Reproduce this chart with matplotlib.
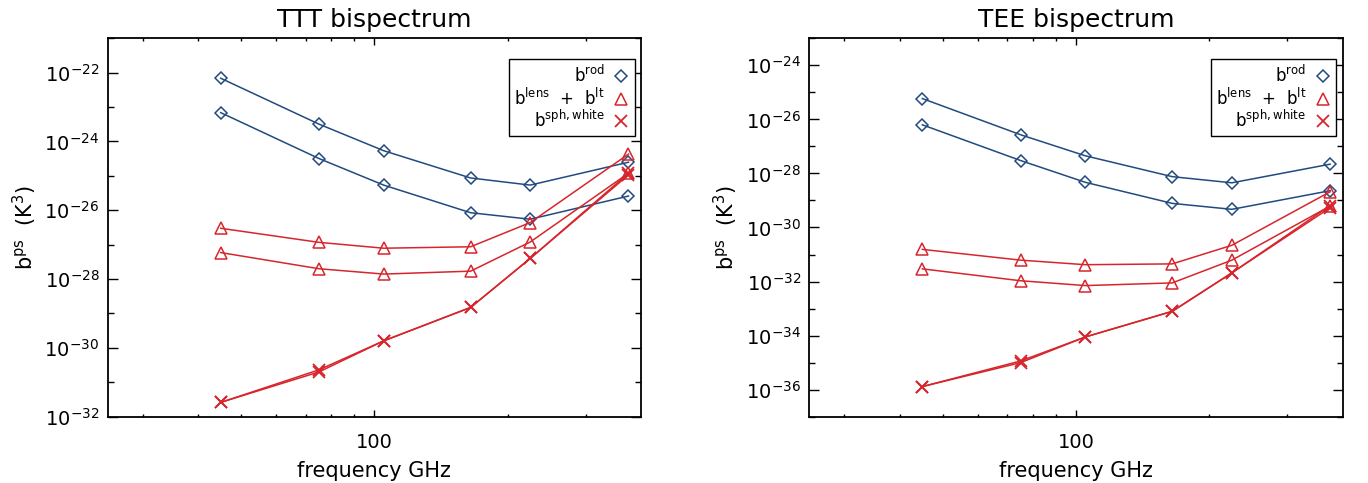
import numpy as np
import matplotlib
matplotlib.use("Agg")
import matplotlib.pyplot as plt
from matplotlib.lines import Line2D

plt.rcParams['font.family'] = 'DejaVu Sans'
plt.rcParams['mathtext.default'] = 'regular'

# data
freq = [45, 75, 105, 165, 225, 375]

ttt_rod_hi = [6.9e-23, 3.2e-24, 5.4e-25, 8.7e-26, 5.4e-26, 2.5e-25]
ttt_rod_lo = [6.9e-24, 3.2e-25, 5.4e-26, 8.5e-27, 5.5e-27, 2.6e-26]
ttt_lens_hi = [3.0e-27, 1.17e-27, 7.9e-28, 8.7e-28, 4.4e-27, 4.3e-25]
ttt_lens_lo = [5.9e-28, 2.0e-28, 1.4e-28, 1.7e-28, 1.2e-27, 1.2e-25]
ttt_sph_a = [2.6e-32, 2.3e-31, 1.6e-30, 1.5e-29, 4.0e-28, 1.2e-25]
ttt_sph_b = [2.6e-32, 2.0e-31, 1.6e-30, 1.5e-29, 4.0e-28, 1.07e-25]

tee_rod_hi = [5.9e-26, 2.7e-27, 4.5e-28, 7.6e-29, 4.5e-29, 2.2e-28]
tee_rod_lo = [6.3e-27, 3.0e-28, 4.7e-29, 7.8e-30, 4.7e-30, 2.3e-29]
tee_lens_hi = [1.55e-31, 6.2e-32, 4.2e-32, 4.5e-32, 2.2e-31, 2.1e-29]
tee_lens_lo = [2.95e-32, 1.07e-32, 7.1e-33, 8.9e-33, 6.2e-32, 6.2e-30]
tee_sph_a = [1.3e-36, 1.15e-35, 8.9e-35, 7.9e-34, 2.1e-32, 6.5e-30]
tee_sph_b = [1.3e-36, 1.0e-35, 8.9e-35, 7.9e-34, 2.1e-32, 5.4e-30]

titles = ['TTT bispectrum', 'TEE bispectrum']
ylims = [(1e-32, 1e-21), (1e-37, 1e-23)]
ymajor = [[-32, -30, -28, -26, -24, -22], [-36, -34, -32, -30, -28, -26, -24]]
yminor = [[-31, -29, -27, -25, -23, -21], [-37, -35, -33, -31, -29, -27, -25, -23]]
legend_labels = ['$b^{rod}$', '$b^{lens}$  +  $b^{lt}$', '$b^{sph,white}$']

blue = '#224a80'
red = '#d6262c'

fig = plt.figure(figsize=(13.68, 4.83), dpi=100)
ax1 = fig.add_axes([0.0787, 0.1373, 0.3898, 0.7834])
ax2 = fig.add_axes([0.5916, 0.1373, 0.3898, 0.7834])

panels = [
    (ax1, ttt_rod_hi, ttt_rod_lo, ttt_lens_hi, ttt_lens_lo, ttt_sph_a, ttt_sph_b),
    (ax2, tee_rod_hi, tee_rod_lo, tee_lens_hi, tee_lens_lo, tee_sph_a, tee_sph_b),
]

for i, (ax, rh, rl, lh, ll, sa, sb) in enumerate(panels):
    ax.plot(freq, rh, color=blue, lw=1.1, marker='D', ms=6, mfc='none', mew=1.1)
    ax.plot(freq, rl, color=blue, lw=1.1, marker='D', ms=6, mfc='none', mew=1.1)
    ax.plot(freq, lh, color=red, lw=1.1, marker='^', ms=8, mfc='none', mew=1.1)
    ax.plot(freq, ll, color=red, lw=1.1, marker='^', ms=8, mfc='none', mew=1.1)
    ax.plot(freq, sa, color=red, lw=1.1, marker='x', ms=8, mew=1.3)
    ax.plot(freq, sb, color=red, lw=1.1, marker='x', ms=8, mew=1.3)

    ax.set_xscale('log')
    ax.set_yscale('log')
    ax.set_xlim(25, 400)
    ax.set_ylim(*ylims[i])

    ax.set_xticks([100])
    ax.set_xticklabels(['100'])
    ax.set_xticks([30, 40, 50, 60, 70, 80, 90, 200, 300], minor=True)
    ax.set_xticklabels([], minor=True)
    ax.set_yticks([10.0 ** e for e in ymajor[i]])
    ax.set_yticklabels(['$10^{%d}$' % e for e in ymajor[i]])
    ax.set_yticks([10.0 ** e for e in yminor[i]], minor=True)
    ax.set_yticklabels([], minor=True)

    ax.tick_params(which='both', direction='in', top=True, right=True, width=1.0)
    ax.tick_params(axis='y', which='major', length=7.2, labelsize=14, pad=6)
    ax.tick_params(axis='y', which='minor', length=4.3)
    ax.tick_params(axis='x', which='major', length=5, labelsize=14, pad=12)
    ax.tick_params(axis='x', which='minor', length=2.5)
    for s in ax.spines.values():
        s.set_linewidth(1.3)

    ax.set_title(titles[i], fontsize=18, pad=8)
    ax.set_xlabel('frequency GHz', fontsize=15, labelpad=6)
    ax.set_ylabel('$b^{ps}$  (K$^3$)', fontsize=15, labelpad=4)

    handles = [
        Line2D([], [], ls='none', marker='D', ms=6, mfc='none', mec=blue, mew=1.1),
        Line2D([], [], ls='none', marker='^', ms=8, mfc='none', mec=red, mew=1.1),
        Line2D([], [], ls='none', marker='x', ms=8, mec=red, mew=1.3),
    ]
    leg = ax.legend(handles, legend_labels, loc='upper right',
                    bbox_to_anchor=(0.988, 0.9445), borderaxespad=0,
                    markerfirst=False, fontsize=12, labelspacing=0.1,
                    borderpad=0.3, handletextpad=0.5, handlelength=1.0,
                    fancybox=False, framealpha=1, edgecolor='black')
    leg.get_frame().set_linewidth(1.0)

fig.savefig('out.png', dpi=100)
